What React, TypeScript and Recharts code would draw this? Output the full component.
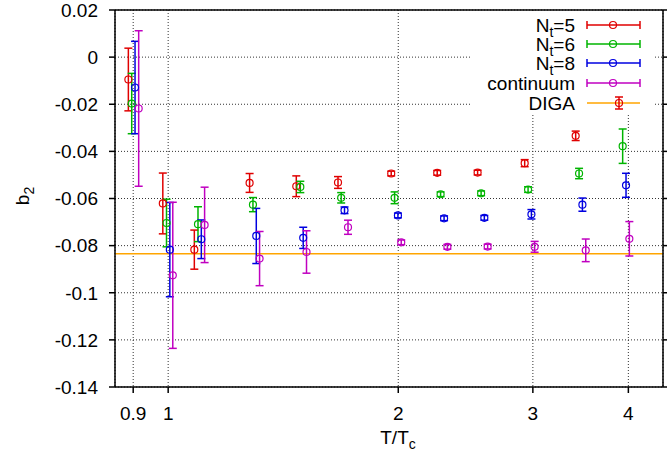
import React from 'react';
import { ComposedChart, Scatter, XAxis, YAxis, CartesianGrid, ErrorBar, ReferenceLine, Legend } from 'recharts';

const FONT = "'Liberation Sans', Arial, Helvetica, sans-serif";

// axis ticks
const xTicks = [0.9, 1, 2, 3, 4];
const yTicks = [-0.14, -0.12, -0.1, -0.08, -0.06, -0.04, -0.02, 0, 0.02];
const xDomain = [0.852, 4.44];
const yDomain = [-0.14, 0.02];

// N_t = 5
const nt5T = [0.887, 0.984, 1.082, 1.278, 1.471, 1.668, 1.958, 2.249, 2.54, 2.927, 3.413];
const nt5B2 = [-0.0095, -0.0621, -0.0817, -0.0534, -0.0548, -0.0532, -0.0494, -0.0491, -0.049, -0.045, -0.0334];
const nt5Err = [0.0133, 0.0129, 0.0083, 0.004, 0.0044, 0.0025, 0.001, 0.001, 0.001, 0.0015, 0.002];

// N_t = 6
const nt6T = [0.896, 0.995, 1.094, 1.291, 1.489, 1.684, 1.978, 2.272, 2.567, 2.957, 3.448, 3.932];
const nt6B2 = [-0.0197, -0.0704, -0.0709, -0.0626, -0.0551, -0.0597, -0.0597, -0.0582, -0.0578, -0.0562, -0.0494, -0.0378];
const nt6Err = [0.0128, 0.0101, 0.0074, 0.003, 0.0024, 0.0022, 0.0025, 0.001, 0.001, 0.0012, 0.0022, 0.0073];

// N_t = 8
const nt8T = [0.905, 1.005, 1.105, 1.304, 1.502, 1.701, 1.998, 2.296, 2.592, 2.987, 3.483, 3.972];
const nt8B2 = [-0.0129, -0.0817, -0.0773, -0.0759, -0.0767, -0.065, -0.0672, -0.0684, -0.0682, -0.0667, -0.0626, -0.0544];
const nt8Err = [0.0196, 0.02, 0.0082, 0.0117, 0.0045, 0.0014, 0.001, 0.001, 0.001, 0.002, 0.0028, 0.0051];

// continuum
const contT = [0.915, 1.014, 1.116, 1.317, 1.517, 1.719, 2.018, 2.319, 2.618, 3.016, 3.518, 4.012];
const contB2 = [-0.0218, -0.0926, -0.0712, -0.0855, -0.0827, -0.0722, -0.0786, -0.0805, -0.0804, -0.0805, -0.082, -0.0771];
const contErr = [0.033, 0.031, 0.016, 0.0115, 0.009, 0.003, 0.001, 0.001, 0.001, 0.0023, 0.0048, 0.0073];

// DIGA
const digaB2 = -0.0834;

const seriesNames = ['N_t=5', 'N_t=6', 'N_t=8', 'continuum', 'DIGA'];

const RED = '#e00000';
const GREEN = '#00b400';
const BLUE = '#0000e0';
const MAG = '#c000c0';
const ORANGE = '#ffa500';

const build = (t: number[], b: number[], e: number[]) => t.map((x, i) => ({ t: x, b2: b[i], err: e[i] }));

const nt5 = build(nt5T, nt5B2, nt5Err);
const nt6 = build(nt6T, nt6B2, nt6Err);
const nt8 = build(nt8T, nt8B2, nt8Err);
const cont = build(contT, contB2, contErr);

const circle = (color: string) => (props: any) => (
  <circle cx={props.cx} cy={props.cy} r={3.5} fill="none" stroke={color} strokeWidth={1.2} />
);

const XTick = (props: any) => (
  <text x={props.x} y={props.y} dy={25} textAnchor="middle" fontSize={19} fontFamily={FONT} fill="#000">
    {String(props.payload.value)}
  </text>
);

const YTick = (props: any) => (
  <text x={props.x} y={props.y} dy={6.8} textAnchor="end" fontSize={19} fontFamily={FONT} fill="#000">
    {String(props.payload.value)}
  </text>
);

const NoTick = () => <g />;

const XTitle = () => (
  <text x={398} y={444} textAnchor="middle" fontSize={19} fontFamily={FONT} fill="#000">
    T/T<tspan fontSize={14} dy={5}>c</tspan>
  </text>
);

const YTitle = () => (
  <text transform="translate(29,196) rotate(-90)" textAnchor="middle" fontSize={19} fontFamily={FONT} fill="#000">
    b<tspan fontSize={14} dy={5}>2</tspan>
  </text>
);

const legendColors = [RED, GREEN, BLUE, MAG, ORANGE];

const LegendLabel = ({ name, y }: { name: string; y: number }) => {
  const parts = name.split('_');
  if (parts.length === 2) {
    const sub = parts[1].charAt(0);
    const rest = parts[1].slice(1);
    return (
      <text x={105} y={y + 6.8} textAnchor="end" fontSize={19} fontFamily={FONT} fill="#000">
        {parts[0]}
        <tspan fontSize={14} dy={5}>{sub}</tspan>
        <tspan fontSize={19} dy={-5}>{rest}</tspan>
      </text>
    );
  }
  return (
    <text x={105} y={y + 6.8} textAnchor="end" fontSize={19} fontFamily={FONT} fill="#000">
      {name}
    </text>
  );
};

const LegendBox = () => {
  const rowY = [13, 32, 51, 71, 91];
  return (
    <svg width={183} height={102} style={{ display: 'block' }}>
      <rect x={0} y={0} width={183} height={102} fill="#fff" />
      {seriesNames.map((name, i) => {
        const y = rowY[i];
        const c = legendColors[i];
        if (name === 'DIGA') {
          return (
            <g key={name}>
              <LegendLabel name={name} y={y} />
              <line x1={117} x2={170} y1={y} y2={y} stroke={ORANGE} strokeWidth={1.5} />
              <line x1={149} x2={149} y1={y - 6} y2={y + 6} stroke={RED} strokeWidth={1.5} />
              <line x1={145} x2={153} y1={y - 6} y2={y - 6} stroke={RED} strokeWidth={1.5} />
              <line x1={145} x2={153} y1={y + 6} y2={y + 6} stroke={RED} strokeWidth={1.5} />
              <circle cx={149} cy={y} r={3.5} fill="none" stroke={RED} strokeWidth={1.2} />
            </g>
          );
        }
        return (
          <g key={name}>
            <LegendLabel name={name} y={y} />
            <line x1={117} x2={170} y1={y} y2={y} stroke={c} strokeWidth={1.5} />
            <line x1={117} x2={117} y1={y - 4} y2={y + 4} stroke={c} strokeWidth={1.5} />
            <line x1={170} x2={170} y1={y - 4} y2={y + 4} stroke={c} strokeWidth={1.5} />
            <circle cx={143} cy={y} r={3.5} fill="none" stroke={c} strokeWidth={1.2} />
          </g>
        );
      })}
    </svg>
  );
};

const axisStroke = { stroke: '#000', strokeWidth: 1.5 };

export default function App() {
  return (
    <div style={{ position: 'fixed', left: 0, top: 0, width: 667, height: 456, background: '#fff' }}>
      <ComposedChart width={667} height={456} margin={{ top: 0, right: 0, bottom: 0, left: 0 }}>
        <CartesianGrid stroke="#333" strokeDasharray="1 2" />
        <XAxis
          dataKey="t"
          type="number"
          scale="log"
          domain={xDomain}
          allowDataOverflow
          ticks={xTicks}
          height={69}
          tickSize={6}
          tickMargin={2}
          axisLine={axisStroke}
          tickLine={axisStroke}
          tick={<XTick />}
          label={<XTitle />}
        />
        <XAxis
          xAxisId="top"
          orientation="top"
          type="number"
          scale="log"
          domain={xDomain}
          allowDataOverflow
          ticks={xTicks}
          height={10}
          tickSize={5}
          axisLine={axisStroke}
          tickLine={axisStroke}
          tick={<NoTick />}
        />
        <YAxis
          dataKey="b2"
          type="number"
          domain={yDomain}
          allowDataOverflow
          ticks={yTicks}
          width={115}
          tickSize={6}
          tickMargin={11}
          axisLine={axisStroke}
          tickLine={axisStroke}
          tick={<YTick />}
          label={<YTitle />}
        />
        <YAxis
          yAxisId="right"
          orientation="right"
          type="number"
          domain={yDomain}
          allowDataOverflow
          ticks={yTicks}
          width={4}
          tickSize={4}
          axisLine={axisStroke}
          tickLine={axisStroke}
          tick={<NoTick />}
        />
        <ReferenceLine y={digaB2} stroke={ORANGE} strokeWidth={1.5} />
        <Scatter name={seriesNames[0]} data={nt5} dataKey="b2" shape={circle(RED)} isAnimationActive={false}>
          <ErrorBar dataKey="err" direction="y" width={4} stroke={RED} strokeWidth={1.5} isAnimationActive={false} />
        </Scatter>
        <Scatter name={seriesNames[1]} data={nt6} dataKey="b2" shape={circle(GREEN)} isAnimationActive={false}>
          <ErrorBar dataKey="err" direction="y" width={4} stroke={GREEN} strokeWidth={1.5} isAnimationActive={false} />
        </Scatter>
        <Scatter name={seriesNames[2]} data={nt8} dataKey="b2" shape={circle(BLUE)} isAnimationActive={false}>
          <ErrorBar dataKey="err" direction="y" width={4} stroke={BLUE} strokeWidth={1.5} isAnimationActive={false} />
        </Scatter>
        <Scatter name={seriesNames[3]} data={cont} dataKey="b2" shape={circle(MAG)} isAnimationActive={false}>
          <ErrorBar dataKey="err" direction="y" width={4} stroke={MAG} strokeWidth={1.5} isAnimationActive={false} />
        </Scatter>
        <Legend
          content={<LegendBox />}
          layout="vertical"
          align="center"
          verticalAlign="middle"
          wrapperStyle={{ left: 470, top: 12, right: 'auto', bottom: 'auto', width: 183, height: 102 }}
        />
      </ComposedChart>
    </div>
  );
}
